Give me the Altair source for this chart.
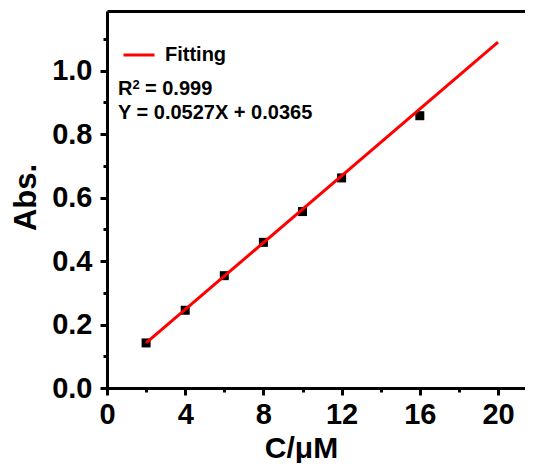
import altair as alt
import pandas as pd

# ---- data ----
conc = [2, 4, 6, 8, 10, 12, 16]
absorb = [0.142, 0.245, 0.354, 0.459, 0.556, 0.662, 0.858]
fit_x = [2, 20]
fit_y = [0.142, 1.090]
x_major = [0, 4, 8, 12, 16, 20]
x_minor = [2, 6, 10, 14, 18]
y_major = [0.0, 0.2, 0.4, 0.6, 0.8, 1.0]
y_minor = [0.1, 0.3, 0.5, 0.7, 0.9, 1.1]
legend_label = ["Fitting"]
r2_parts = ["R", "2", "= 0.999"]
eq_text = ["Y = 0.0527X + 0.0365"]

W, H = 418, 377
FONT = "Liberation Sans"
LBL = 29
TTL = 30
ANN = 20

xs = alt.Scale(domain=[0, 21.38], nice=False, zero=False)
ys = alt.Scale(domain=[0, 1.188], nice=False, zero=False)

pts_df = pd.DataFrame({"C": conc, "A": absorb})
fit_df = pd.DataFrame({"C": fit_x, "A": fit_y, "s": legend_label * len(fit_x)})

x_main = alt.Axis(values=x_major, format="d", title="C/μM", orient="bottom",
                  grid=False, domain=True, domainColor="black", domainWidth=3,
                  ticks=True, tickColor="black", tickWidth=3, tickSize=7,
                  labelFont=FONT, labelFontSize=LBL, labelFontWeight="bold",
                  labelColor="black", labelPadding=5, labelFlush=False,
                  titleFont=FONT, titleFontSize=TTL, titleFontWeight="bold",
                  titleColor="black", titleX=194, titleY=69,
                  titleBaseline="alphabetic", titleAlign="center")
y_main = alt.Axis(values=y_major, format=".1f", title="Abs.", orient="left",
                  grid=False, domain=True, domainColor="black", domainWidth=3,
                  ticks=True, tickColor="black", tickWidth=3, tickSize=7,
                  labelFont=FONT, labelFontSize=LBL, labelFontWeight="bold",
                  labelColor="black", labelPadding=8, labelFlush=False,
                  titleFont=FONT, titleFontSize=31, titleFontWeight="bold",
                  titleColor="black", titleX=-72, titleY=186, titleAngle=-90,
                  titleBaseline="alphabetic", titleAlign="center")
x_min = alt.Axis(values=x_minor, orient="bottom", labels=False, domain=False,
                 grid=False, ticks=True, tickColor="black", tickWidth=3,
                 tickSize=4, title=None)
y_min = alt.Axis(values=y_minor, orient="left", labels=False, domain=False,
                 grid=False, ticks=True, tickColor="black", tickWidth=3,
                 tickSize=4, title=None)
x_top = alt.Axis(values=[], orient="top", labels=False, ticks=False,
                 domain=True, domainColor="black", domainWidth=3, grid=False,
                 title=None)

points = alt.Chart(pts_df).mark_square(size=81, color="black", opacity=1).encode(
    x=alt.X("C:Q", scale=xs, axis=x_main),
    y=alt.Y("A:Q", scale=ys, axis=y_main),
)

minor = alt.Chart(pts_df).mark_point(opacity=0).encode(
    x=alt.X("C:Q", scale=xs, axis=x_min),
    y=alt.Y("A:Q", scale=ys, axis=y_min),
)

frame = alt.Chart(pts_df).mark_point(opacity=0).encode(
    x=alt.X("C:Q", scale=xs, axis=x_top),
    y=alt.Y("A:Q", scale=ys, axis=None),
)

line = alt.Chart(fit_df).mark_line(strokeWidth=3).encode(
    x=alt.X("C:Q", scale=xs, axis=None),
    y=alt.Y("A:Q", scale=ys, axis=None),
    color=alt.Color("s:N", scale=alt.Scale(domain=legend_label, range=["#ff0000"]),
                    legend=alt.Legend(title=None, orient="none", legendX=15,
                                      legendY=27, symbolType="stroke",
                                      symbolSize=961, symbolStrokeWidth=3,
                                      labelFont=FONT, labelFontSize=ANN,
                                      labelFontWeight="bold", labelColor="black",
                                      labelOffset=9, padding=0)),
)


def label(txt, px, py, size):
    return alt.Chart(pd.DataFrame({"t": [txt]})).mark_text(
        font=FONT, fontSize=size, fontWeight="bold", color="black",
        align="left", baseline="alphabetic").encode(
        x=alt.value(px), y=alt.value(py), text="t:N")


ann = [
    label(r2_parts[0], 11, 84, ANN),
    label(r2_parts[1], 25.5, 78, 13),
    label(r2_parts[2], 38, 84, ANN),
    label(eq_text[0], 11, 108, ANN),
]

chart = alt.layer(points, line, minor, frame, *ann).resolve_axis(
    x="independent", y="independent"
).properties(
    width=W, height=H,
    autosize=alt.AutoSizeParams(type="none"),
    padding={"left": 99, "top": 3, "right": 0, "bottom": 75},
).configure_view(stroke=None)

chart.save("out.html", embed_options={"renderer": "svg", "actions": False})
